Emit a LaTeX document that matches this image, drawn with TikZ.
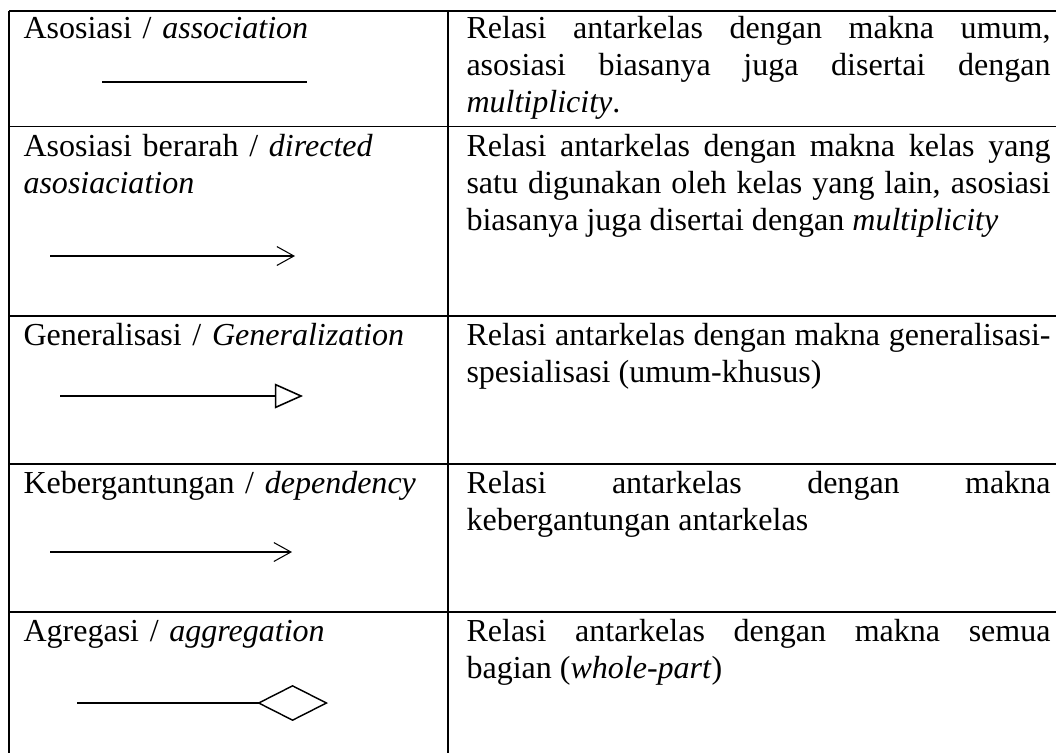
\documentclass[tikz,border=0pt]{standalone}
\usepackage{fontspec}
\setmainfont{Liberation Serif}
\usepackage{tikz}
\usetikzlibrary{arrows.meta}

\tikzset{
  cell/.style={anchor=base west, inner sep=0pt, text width=160pt, align=left},
  ket/.style={anchor=base west, inner sep=0pt, text width=222.5pt, align=justify},
  garis/.style={line width=0.4pt},
}

\begin{document}
\begin{tikzpicture}[x=0.381pt,y=-0.381pt,font=\fontsize{12.2}{14.1}\selectfont]
                \useasboundingbox (0,0) rectangle (1056,753);
                % table frame
                \draw[garis] (9,11) -- (9,753);
                \draw[garis] (448,11) -- (448,753);
                \draw[garis] (9,11) -- (1056,11);
                \draw[garis] (9,126.5) -- (1056,126.5);
                \draw[garis] (9,316) -- (1056,316);
                \draw[garis] (9,464) -- (1056,464);
                \draw[garis] (9,612) -- (1056,612);
                % row 1
                \node[cell] (nAsosiasi) at (23,38) {Asosiasi / \textit{association}};
                \node[ket] (kAsosiasi) at (466,38) {Relasi antarkelas dengan makna umum,\linebreak asosiasi biasanya juga disertai dengan\linebreak \textit{multiplicity}.};
                \coordinate (a1) at (102,82);
                \coordinate (a2) at (307,82);
                \draw[line width=1pt] (a1) -- (a2);
                % row 2
                \node[cell] (nBerarah) at (23,156) {Asosiasi berarah / \textit{directed}\\ \textit{asosiaciation}};
                \node[ket] (kBerarah) at (466,156) {Relasi antarkelas dengan makna kelas yang\linebreak satu digunakan oleh kelas yang lain, asosiasi\linebreak biasanya juga disertai dengan \textit{multiplicity}};
                \coordinate (b1) at (50,256);
                \coordinate (b2) at (295,256);
                \draw[garis,-{Straight Barb[length=6.5pt,width=7.2pt]}] (b1) -- (b2);
                % row 3
                \node[cell] (nGeneral) at (23,345) {Generalisasi / \textit{Generalization}};
                \node[ket] (kGeneral) at (466,345) {Relasi antarkelas dengan makna generalisasi-\linebreak spesialisasi (umum-khusus)};
                \coordinate (g1) at (60,396);
                \coordinate (g2) at (303,396);
                \draw[line width=0.6pt,-{Triangle[open,length=10.7pt,width=9.4pt]}] (g1) -- (g2);
                % row 4
                \node[cell] (nDepend) at (23,493) {Kebergantungan / \textit{dependency}};
                \node[ket] (kDepend) at (466,493) {Relasi antarkelas dengan makna\linebreak kebergantungan antarkelas};
                \coordinate (d1) at (50,552);
                \coordinate (d2) at (292,552);
                \draw[garis,-{Straight Barb[length=6.5pt,width=7.2pt]}] (d1) -- (d2);
                % row 5
                \node[cell] (nAgregasi) at (23,641) {Agregasi / \textit{aggregation}};
                \node[ket] (kAgregasi) at (466,641) {Relasi antarkelas dengan makna semua\linebreak bagian (\textit{whole-part})};
                \coordinate (r1) at (77,703);
                \coordinate (r2) at (328,703);
                \draw[line width=0.55pt,-{Diamond[open,length=27pt,width=13.7pt]}] (r1) -- (r2);
            \end{tikzpicture}
\end{document}
